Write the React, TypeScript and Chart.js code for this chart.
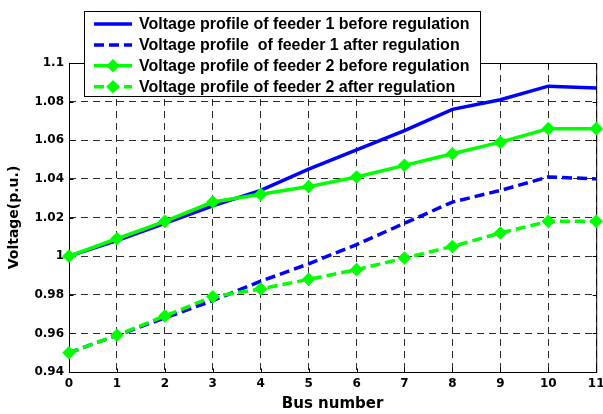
import React, { useEffect, useRef } from "react";
import { Chart, registerables } from "chart.js";

Chart.register(...registerables);

// ---- data ----
const busNumbers = [0, 1, 2, 3, 4, 5, 6, 7, 8, 9, 10, 11];
const feeder1Before = [1.0, 1.008, 1.017, 1.026, 1.034, 1.045, 1.055, 1.065, 1.076, 1.081, 1.088, 1.087];
const feeder1After = [0.95, 0.959, 0.968, 0.977, 0.987, 0.996, 1.006, 1.017, 1.028, 1.034, 1.041, 1.040];
const feeder2Before = [1.0, 1.009, 1.018, 1.028, 1.032, 1.036, 1.041, 1.047, 1.053, 1.059, 1.066, 1.066];
const feeder2After = [0.95, 0.959, 0.969, 0.979, 0.983, 0.988, 0.993, 0.999, 1.005, 1.012, 1.018, 1.018];
const seriesLabels = [
  "Voltage profile of feeder 1 before regulation",
  "Voltage profile  of feeder 1 after regulation",
  "Voltage profile of feeder 2 before regulation",
  "Voltage profile of feeder 2 after regulation",
];
const yTickValues = [0.94, 0.96, 0.98, 1.0, 1.02, 1.04, 1.06, 1.08, 1.1];
const yTickLabels = ["0.94", "0.96", "0.98", "1", "1.02", "1.04", "1.06", "1.08", "1.1"];
const xTitle = "Bus number";
const yTitle = "Voltage(p.u.)";

const BLUE = "#0000ff";
const GREEN = "#00ff00";
const TICK_FONT = { family: "'DejaVu Sans', sans-serif", weight: "bold" as const, size: 12 };

const framePlugin = {
  id: "frame",
  beforeDatasetsDraw(chart: any) {
    const { ctx, chartArea: a, scales } = chart;
    ctx.save();
    ctx.strokeStyle = "#000";
    ctx.lineWidth = 1;
    ctx.setLineDash([]);
    const L = a.left + 0.5, R = a.right + 0.5, T = a.top + 0.5, B = a.bottom + 0.5;
    ctx.strokeRect(L, T, R - L, B - T);
    ctx.beginPath();
    const tl = 4;
    scales.x.ticks.forEach((_t: any, i: number) => {
      const px = Math.round(scales.x.getPixelForTick(i)) + 0.5;
      ctx.moveTo(px, B); ctx.lineTo(px, B - tl);
      ctx.moveTo(px, T); ctx.lineTo(px, T + tl);
    });
    scales.y.ticks.forEach((_t: any, i: number) => {
      const py = Math.round(scales.y.getPixelForTick(i)) + 0.5;
      ctx.moveTo(L, py); ctx.lineTo(L + tl, py);
      ctx.moveTo(R, py); ctx.lineTo(R - tl, py);
    });
    ctx.stroke();
    ctx.restore();
  },
};

const legendPlugin = {
  id: "boxLegend",
  afterDraw(chart: any) {
    const { ctx } = chart;
    const ds = chart.data.datasets;
    ctx.save();
    const bx = 84.5, by = 11.5, bw = 396, bh = 85;
    ctx.fillStyle = "#fff";
    ctx.fillRect(bx, by, bw, bh);
    ctx.strokeStyle = "#000";
    ctx.lineWidth = 1;
    ctx.setLineDash([]);
    ctx.strokeRect(bx, by, bw, bh);
    ds.forEach((d: any, i: number) => {
      const y = 24 + i * 20.9;
      ctx.save();
      ctx.strokeStyle = d.borderColor;
      ctx.lineWidth = d.borderWidth;
      ctx.setLineDash(d.borderDash || []);
      ctx.beginPath();
      ctx.moveTo(94, y);
      ctx.lineTo(132, y);
      ctx.stroke();
      if (d.pointRadius > 0) {
        ctx.setLineDash([]);
        ctx.fillStyle = d.pointBackgroundColor;
        ctx.beginPath();
        const r = d.pointRadius;
        ctx.moveTo(113, y - r);
        ctx.lineTo(113 + r, y);
        ctx.lineTo(113, y + r);
        ctx.lineTo(113 - r, y);
        ctx.closePath();
        ctx.fill();
      }
      ctx.restore();
      ctx.fillStyle = "#000";
      ctx.font = "bold 16px 'Liberation Sans', Arial, sans-serif";
      ctx.textBaseline = "middle";
      ctx.textAlign = "left";
      ctx.fillText(d.label, 139, y + 0.5);
    });
    ctx.restore();
  },
};

export default function App() {
  const ref = useRef<HTMLCanvasElement | null>(null);
  useEffect(() => {
    if (!ref.current) return;
    const mk = (label: string, data: number[], color: string, dashed: boolean, marker: boolean, order: number) => ({
      label,
      data,
      borderColor: color,
      backgroundColor: color,
      borderWidth: 3.5,
      borderDash: dashed ? [10, 5] : [],
      pointStyle: "rectRot",
      pointRadius: marker ? 6.8 : 0,
      pointHoverRadius: marker ? 6.8 : 0,
      pointBackgroundColor: color,
      pointBorderColor: color,
      pointBorderWidth: 0,
      tension: 0,
      clip: false as any,
      order,
    });
    const chart = new Chart(ref.current, {
      type: "line",
      data: {
        labels: busNumbers.map(String),
        datasets: [
          mk(seriesLabels[0], feeder1Before, BLUE, false, false, 1),
          mk(seriesLabels[1], feeder1After, BLUE, true, false, 1),
          mk(seriesLabels[2], feeder2Before, GREEN, false, true, 0),
          mk(seriesLabels[3], feeder2After, GREEN, true, true, 0),
        ] as any,
      },
      options: {
        animation: false,
        responsive: true,
        maintainAspectRatio: false,
        events: [],
        layout: { padding: { top: 63, right: 5, left: 0, bottom: 0 } },
        plugins: { legend: { display: false }, tooltip: { enabled: false } },
        scales: {
          x: {
            type: "category",
            offset: false,
            grid: { color: "#2a2a2a", lineWidth: 1, drawTicks: false },
            border: { display: false, dash: [7, 5] },
            ticks: { color: "#000", font: TICK_FONT, padding: 5, maxRotation: 0, autoSkip: false },
            title: {
              display: true,
              text: xTitle,
              color: "#000",
              font: { family: "'DejaVu Sans', sans-serif", weight: "bold", size: 15 },
              padding: { top: 0, bottom: 1 },
            },
            afterFit(scale: any) {
              scale.height = 42;
              scale.paddingLeft = 0;
              scale.paddingRight = 0;
            },
          },
          y: {
            type: "linear",
            min: 0.94,
            max: 1.1,
            grid: { color: "#2a2a2a", lineWidth: 1, drawTicks: false },
            border: { display: false, dash: [7, 5] },
            afterBuildTicks(scale: any) {
              scale.ticks = yTickValues.map((v) => ({ value: v }));
            },
            ticks: {
              color: "#000",
              font: TICK_FONT,
              padding: 5,
              callback: (_v: any, i: number) => yTickLabels[i],
            },
            title: {
              display: true,
              text: yTitle,
              color: "#000",
              font: { family: "'DejaVu Sans', sans-serif", weight: "bold", size: 14 },
              padding: { top: 6, bottom: 0 },
            },
            afterFit(scale: any) {
              scale.width = 69;
              scale.paddingTop = 0;
              scale.paddingBottom = 0;
            },
          },
        },
      } as any,
      plugins: [framePlugin, legendPlugin],
    });
    return () => chart.destroy();
  }, []);
  return (
    <div style={{ position: "absolute", left: 0, top: 0, width: 603, height: 414, background: "#fff" }}>
      <canvas ref={ref} />
    </div>
  );
}
